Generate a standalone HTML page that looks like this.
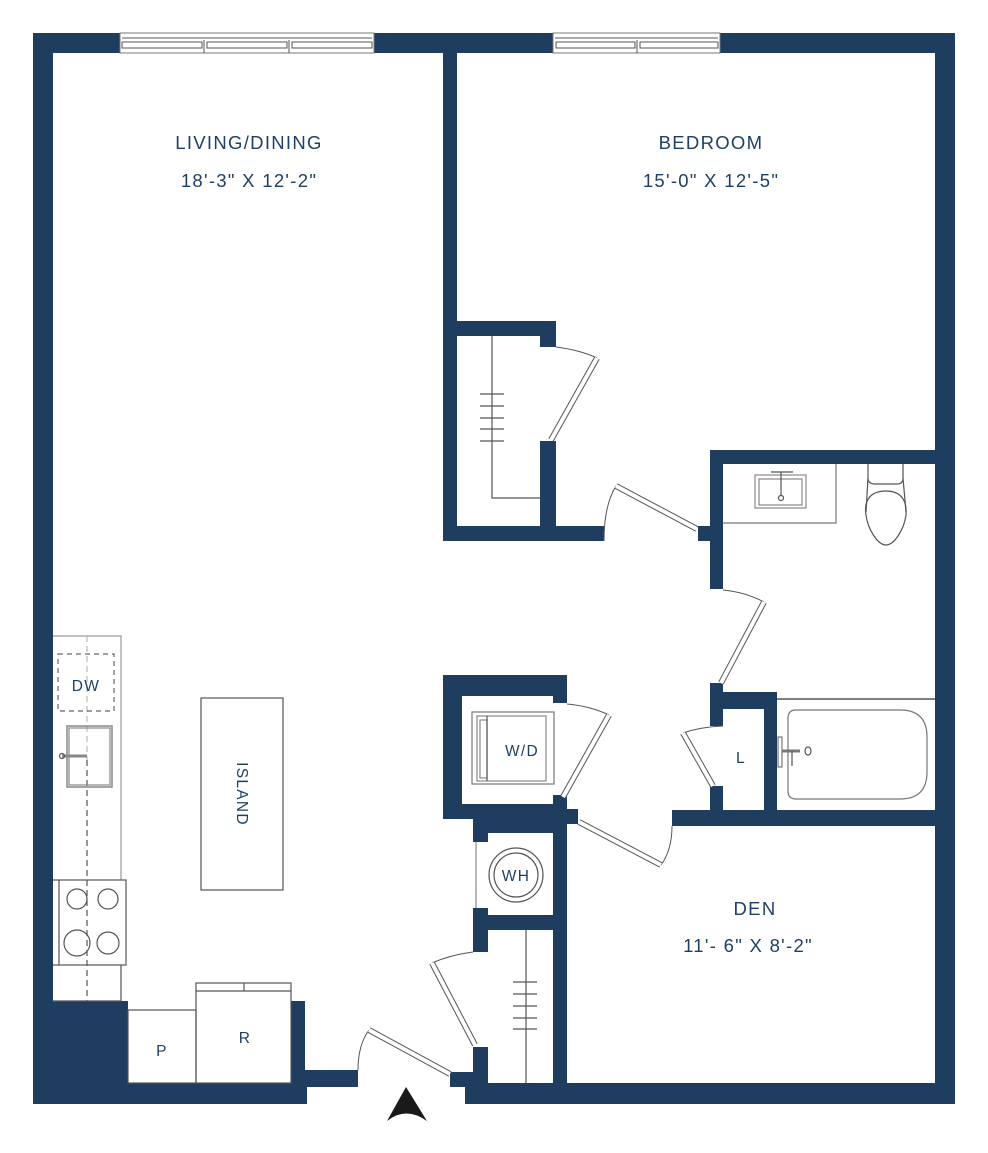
<!DOCTYPE html>
<html><head><meta charset="utf-8"><style>
html,body{margin:0;padding:0;background:#fff;}
svg{display:block;}
text{font-family:"Liberation Sans",sans-serif;fill:#1f3f66;letter-spacing:1.3px;}
</style></head><body>
<svg width="988" height="1153" viewBox="0 0 988 1153" xmlns="http://www.w3.org/2000/svg">
<g fill="#1f3d5f">
<rect x="33" y="33" width="922" height="20"/>
<rect x="33" y="33" width="20" height="1071"/>
<rect x="935" y="33" width="20" height="1071"/>
<rect x="33" y="1001" width="95" height="103"/>
<rect x="128" y="1083" width="179" height="21"/>
<rect x="291" y="1001" width="14" height="82"/>
<rect x="291" y="1070" width="67" height="17"/>
<rect x="465" y="1083" width="490" height="21"/>
<rect x="450" y="1072" width="23" height="15"/>
<rect x="443" y="53" width="14" height="488"/>
<rect x="443" y="321" width="113" height="15"/>
<rect x="540" y="321" width="16" height="26"/>
<rect x="540" y="441" width="16" height="100"/>
<rect x="443" y="526" width="161" height="15"/>
<rect x="710" y="450" width="245" height="14"/>
<rect x="710" y="450" width="13" height="139"/>
<rect x="698" y="526" width="12" height="15"/>
<rect x="710" y="683" width="13" height="43"/>
<rect x="710" y="692" width="67" height="17"/>
<rect x="764" y="692" width="13" height="134"/>
<rect x="710" y="786" width="13" height="40"/>
<rect x="672" y="810" width="283" height="16"/>
<rect x="443" y="675" width="124" height="21"/>
<rect x="443" y="675" width="19" height="144"/>
<rect x="553" y="675" width="14" height="28"/>
<rect x="553" y="795" width="14" height="37"/>
<rect x="443" y="804" width="124" height="15"/>
<rect x="473" y="804" width="94" height="29"/>
<rect x="567" y="809" width="11" height="15"/>
<rect x="473" y="819" width="15" height="23"/>
<rect x="473" y="908" width="15" height="44"/>
<rect x="473" y="915" width="94" height="15"/>
<rect x="553" y="819" width="14" height="264"/>
<rect x="473" y="1047" width="15" height="40"/>
</g>
<g fill="#fff" stroke="#777" stroke-width="1">
<rect x="120" y="33" width="254" height="20"/>
<rect x="553" y="33" width="167" height="20"/>
</g>
<g stroke="#555" stroke-width="1" fill="none">
<line x1="122" y1="38" x2="372" y2="38"/>
<rect x="122" y="42" width="80" height="6"/><rect x="207" y="42" width="80" height="6"/><rect x="292" y="42" width="80" height="6"/>
<line x1="204" y1="40" x2="204" y2="53"/><line x1="289" y1="40" x2="289" y2="53"/>
<line x1="555" y1="38" x2="718" y2="38"/>
<rect x="556" y="42" width="79" height="6"/><rect x="640" y="42" width="78" height="6"/>
<line x1="637" y1="40" x2="637" y2="53"/>
</g>
<g fill="none" stroke="#555" stroke-width="1.2">
<polyline points="492,336 492,498 540,498"/>
<line x1="480" y1="394" x2="504" y2="394"/><line x1="480" y1="406" x2="504" y2="406"/><line x1="480" y1="418" x2="504" y2="418"/><line x1="480" y1="429" x2="504" y2="429"/><line x1="480" y1="441" x2="504" y2="441"/>
<line x1="526" y1="930" x2="526" y2="1083"/>
<line x1="513" y1="982" x2="537" y2="982"/><line x1="513" y1="994" x2="537" y2="994"/><line x1="513" y1="1006" x2="537" y2="1006"/><line x1="513" y1="1018" x2="537" y2="1018"/><line x1="513" y1="1029" x2="537" y2="1029"/>
<polyline points="723,523 836,523 836,464" stroke="#777"/>
<rect x="755" y="475" width="51" height="33" stroke="#888"/>
<rect x="759" y="479" width="43" height="26" stroke="#888"/>
<line x1="781" y1="472" x2="781" y2="495"/><circle cx="781" cy="498" r="2.5"/>
<line x1="771" y1="472" x2="793" y2="472"/>
<path d="M868,464 L868,478 Q868,484 875,484 L897,484 Q903,484 903,478 L903,464"/>
<path d="M886,491 C868,491 864,503 866,515 C868,530 878,545 886,545 C894,545 904,530 906,515 C907,503 903,491 886,491Z"/>
<line x1="868" y1="478" x2="866" y2="512"/><line x1="903" y1="478" x2="906" y2="512"/>
<line x1="777" y1="699" x2="935" y2="699" stroke="#333"/>
<path d="M796,710 L900,710 Q927,710 927,737 L927,772 Q927,799 900,799 L796,799 Q788,799 788,791 L788,718 Q788,710 796,710Z" stroke="#777"/>
<rect x="778" y="737" width="4" height="30" stroke="#777"/>
<line x1="782" y1="751" x2="800" y2="751" stroke-width="3" stroke="#777"/><line x1="792" y1="751" x2="792" y2="766"/>
<ellipse cx="808" cy="751" rx="3" ry="4"/>
<rect x="472" y="712" width="82" height="72" stroke="#777"/>
<rect x="477" y="716" width="69" height="65" stroke="#888"/>
<rect x="480" y="720" width="7" height="58" stroke="#888"/>
<line x1="487" y1="716" x2="487" y2="781"/>
<circle cx="516" cy="875" r="27"/><circle cx="516" cy="875" r="22"/>
<line x1="476" y1="842" x2="476" y2="908" stroke="#888"/>
<polyline points="53,636 121,636 121,880" stroke="#999"/>
<polyline points="121,965 121,1001 53,1001" stroke="#555"/>
<line x1="87" y1="636" x2="87" y2="760" stroke="#bbb" stroke-dasharray="6,4"/>
<line x1="87" y1="760" x2="87" y2="1001" stroke-dasharray="6,4"/>
<rect x="58" y="654" width="56" height="57" stroke-dasharray="5,4" stroke="#666"/>
<rect x="67" y="726" width="45" height="61" stroke="#888" stroke-width="1.5"/>
<rect x="69" y="728" width="41" height="57" stroke="#888"/>
<line x1="62" y1="756" x2="87" y2="756" stroke-width="3" stroke="#888"/><circle cx="62" cy="756" r="2.5"/>
<rect x="59" y="880" width="67" height="85"/>
<line x1="53" y1="880" x2="59" y2="880"/><line x1="53" y1="965" x2="59" y2="965"/>
<circle cx="77" cy="899" r="10"/><circle cx="108" cy="899" r="10"/>
<circle cx="77" cy="943" r="13"/><circle cx="108" cy="943" r="11"/>
<rect x="201" y="698" width="82" height="192"/>
<rect x="128" y="1010" width="68" height="73"/>
<rect x="196" y="983" width="95" height="100"/>
<line x1="196" y1="991" x2="291" y2="991"/><line x1="244" y1="983" x2="244" y2="991"/>
</g>
<g fill="none" stroke="#555" stroke-width="1">
<path d="M556,347 Q580,350 597,358"/>
<path d="M604,541 Q604,505 616,486"/>
<path d="M723,590 Q745,592 764,602"/>
<path d="M723,726 Q700,727 683,733"/>
<path d="M567,704 Q590,706 609,715"/>
<path d="M672,826 Q672,850 661,865"/>
<path d="M473,952 Q450,955 432,963"/>
<path d="M358,1070 Q358,1045 369,1030"/>
</g>
<g stroke-linecap="butt">
<g stroke="#555" stroke-width="6">
<line x1="551" y1="440" x2="597" y2="358"/>
<line x1="697" y1="529" x2="616" y2="486"/>
<line x1="721" y1="683" x2="764" y2="602"/>
<line x1="683" y1="733" x2="713" y2="786"/>
<line x1="563" y1="797" x2="609" y2="715"/>
<line x1="579" y1="822" x2="661" y2="865"/>
<line x1="432" y1="963" x2="475" y2="1045"/>
<line x1="369" y1="1030" x2="450" y2="1074"/>
</g>
<g stroke="#fff" stroke-width="4">
<line x1="551" y1="440" x2="597" y2="358"/>
<line x1="697" y1="529" x2="616" y2="486"/>
<line x1="721" y1="683" x2="764" y2="602"/>
<line x1="683" y1="733" x2="713" y2="786"/>
<line x1="563" y1="797" x2="609" y2="715"/>
<line x1="579" y1="822" x2="661" y2="865"/>
<line x1="432" y1="963" x2="475" y2="1045"/>
<line x1="369" y1="1030" x2="450" y2="1074"/>
</g>
</g>
<path d="M406,1087 L427,1121 Q406,1106 387,1121 Z" fill="#1a1a1a"/>
<g font-size="18.5" text-anchor="middle">
<text x="249" y="149">LIVING/DINING</text>
<text x="249" y="187">18'-3" X 12'-2"</text>
<text x="711" y="149">BEDROOM</text>
<text x="711" y="187">15'-0" X 12'-5"</text>
<text x="755" y="915">DEN</text>
<text x="748" y="952">11'- 6" X 8'-2"</text>
</g>
<g font-size="15.5" text-anchor="middle">
<text x="86" y="691">DW</text>
<text x="522" y="756">W/D</text>
<text x="516" y="881">WH</text>
<text x="741" y="763">L</text>
<text x="162" y="1056">P</text>
<text x="245" y="1043">R</text>
<text transform="translate(237,794) rotate(90)">ISLAND</text>
</g>
</svg>
</body></html>
